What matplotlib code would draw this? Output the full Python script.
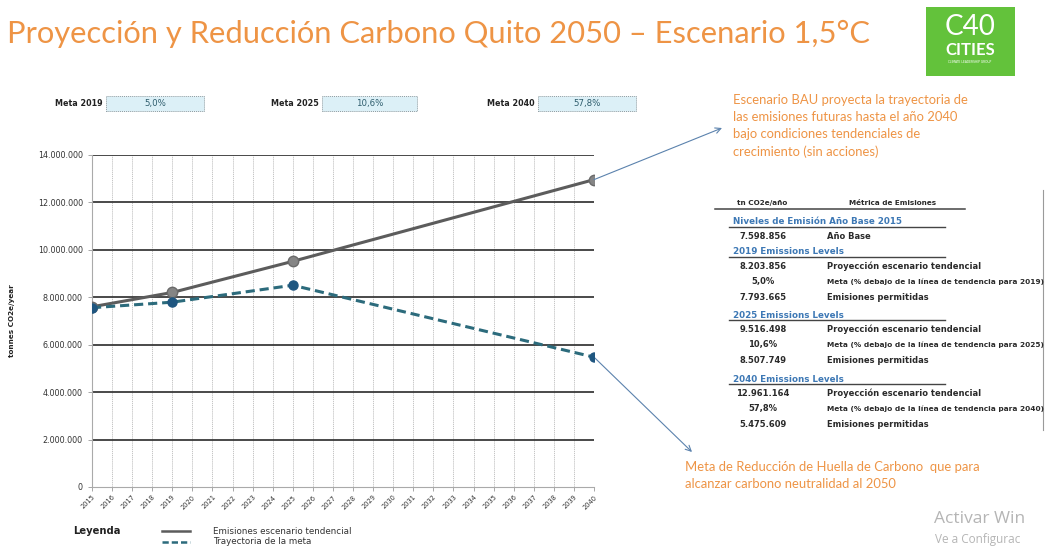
import matplotlib
matplotlib.use("Agg")
import matplotlib.pyplot as plt
from matplotlib.patches import Rectangle
from matplotlib.ticker import FuncFormatter

# ---------------- data ----------------
years = list(range(2015, 2041))
bau_years = [2015, 2019, 2025, 2040]
bau_values = [7598856, 8203856, 9516498, 12961164]
meta_years = [2015, 2019, 2025, 2040]
meta_values = [7560000, 7793665, 8507749, 5475609]
yticks = [0, 2000000, 4000000, 6000000, 8000000, 10000000, 12000000, 14000000]

meta_box_labels = ["Meta 2019", "Meta 2025", "Meta 2040"]
meta_box_values = ["5,0%", "10,6%", "57,8%"]

table_sections = ["Niveles de Emisión Año Base 2015", "2019 Emissions Levels",
                  "2025 Emissions Levels", "2040 Emissions Levels"]
table_rows = [
    [("7.598.856", "Año Base")],
    [("8.203.856", "Proyección escenario tendencial"),
     ("5,0%", "Meta (% debajo de la línea de tendencia para 2019)"),
     ("7.793.665", "Emisiones permitidas")],
    [("9.516.498", "Proyección escenario tendencial"),
     ("10,6%", "Meta (% debajo de la línea de tendencia para 2025)"),
     ("8.507.749", "Emisiones permitidas")],
    [("12.961.164", "Proyección escenario tendencial"),
     ("57,8%", "Meta (% debajo de la línea de tendencia para 2040)"),
     ("5.475.609", "Emisiones permitidas")],
]
legend_labels = ["Emisiones escenario tendencial", "Trayectoria de la meta"]

W, H = 1047, 548
fig = plt.figure(figsize=(W / 100, H / 100), dpi=100)
fig.patch.set_facecolor("white")


def fx(x):
    return x / W


def fy(y):
    return 1 - y / H


ORANGE = "#EE9445"
BAU_C = "#5c5c5c"
META_C = "#2c6b7c"

# ---------------- main chart ----------------
L, R, T, B = 92, 594, 155, 487
ax = fig.add_axes([fx(L), fy(B), (R - L) / W, (B - T) / H])
ax.set_xlim(2015, 2040)
ax.set_ylim(0, 14000000)

ax.plot(bau_years, bau_values, color=BAU_C, lw=2.2, zorder=3,
        marker="o", ms=7.5, mfc="#858585", mec="#6a6a6a", label=legend_labels[0])
ax.plot(meta_years, meta_values, color=META_C, lw=2.2, ls=(0, (3, 1.6)), zorder=4,
        marker="o", ms=6.5, mfc="#1f5680", mec="#1f5680", label=legend_labels[1])

ax.set_xticks(years)
ax.set_xticklabels([str(y) for y in years], rotation=45, ha="right",
                   rotation_mode="anchor", fontsize=4.8, color="#333333")
ax.set_yticks(yticks)
ax.yaxis.set_major_formatter(FuncFormatter(lambda v, p: f"{int(v):,}".replace(",", ".")))
ax.tick_params(axis="y", labelsize=5.8, colors="#333333", length=3, width=0.6, color="#999999")
ax.tick_params(axis="x", length=3, width=0.6, color="#999999", pad=2)

for yv in yticks[1:]:
    ax.axhline(yv, color="#3a3a3a", lw=1.3, zorder=1)
for xv in years[1:]:
    ax.axvline(xv, color="#bcbcbc", lw=0.6, ls=(0, (1.5, 1)), zorder=0)

for s in ["top", "right"]:
    ax.spines[s].set_visible(False)
ax.spines["left"].set_color("#aaaaaa")
ax.spines["left"].set_linewidth(0.8)
ax.spines["bottom"].set_color("#aaaaaa")
ax.spines["bottom"].set_linewidth(0.8)

fig.text(fx(12), fy(321), "tonnes CO2e/year", rotation=90, fontsize=5.2,
         fontweight="bold", color="#222222", ha="center", va="center")

# arrows
ax.annotate("", xy=(fx(722), fy(128)), xycoords="figure fraction",
            xytext=(bau_years[-1], bau_values[-1]), textcoords="data",
            arrowprops=dict(arrowstyle="->", color="#5b82ad", lw=0.8,
                            shrinkA=0, shrinkB=0), annotation_clip=False)
ax.annotate("", xy=(fx(692), fy(452)), xycoords="figure fraction",
            xytext=(meta_years[-1], meta_values[-1]), textcoords="data",
            arrowprops=dict(arrowstyle="->", color="#5b82ad", lw=0.8,
                            shrinkA=0, shrinkB=0), annotation_clip=False)

# ---------------- title & logo ----------------
fig.text(fx(7), fy(34), "Proyección y Reducción Carbono Quito 2050 – Escenario 1,5°C",
         fontsize=22.2, color=ORANGE, family="Lato", ha="left", va="center")

fig.patches.append(Rectangle((fx(926), fy(76)), (1015 - 926) / W, (76 - 7) / H,
                             transform=fig.transFigure, facecolor="#63c23b",
                             edgecolor="none"))
fig.text(fx(970), fy(27), "C40", fontsize=20, color="white", ha="center",
         va="center", family="Lato")
fig.text(fx(970), fy(50), "CITIES", fontsize=12, color="white", ha="center",
         va="center", family="Lato", fontweight="bold")
fig.text(fx(970), fy(62), "CLIMATE LEADERSHIP GROUP", fontsize=2.2, color="white",
         ha="center", va="center")

# ---------------- meta boxes ----------------
box_x = [(106, 204), (322, 417), (538, 636)]
for lab, val, (x0, x1) in zip(meta_box_labels, meta_box_values, box_x):
    fig.text(fx(x0 - 3), fy(103.5), lab, fontsize=5.8, fontweight="bold",
             color="#222222", ha="right", va="center")
    fig.patches.append(Rectangle((fx(x0), fy(111)), (x1 - x0) / W, 15 / H,
                                 transform=fig.transFigure, facecolor="#dcf0f7",
                                 edgecolor="#8c9aa0", lw=0.7, ls=(0, (1, 1))))
    fig.text(fx((x0 + x1) / 2), fy(103.5), val, fontsize=6.2, color="#2d5c6c",
             ha="center", va="center")

# ---------------- annotations ----------------
bau_note = ["Escenario BAU proyecta la trayectoria de",
            "las emisiones futuras hasta el año 2040",
            "bajo condiciones tendenciales de",
            "crecimiento (sin acciones)"]
for i, line in enumerate(bau_note):
    fig.text(fx(733), fy(100 + i * 17.2), line, fontsize=9.4, color=ORANGE,
             family="Lato", ha="left", va="center")
meta_note = ["Meta de Reducción de Huella de Carbono  que para",
             "alcanzar carbono neutralidad al 2050"]
for i, line in enumerate(meta_note):
    fig.text(fx(685), fy(467 + i * 17.5), line, fontsize=9.4, color=ORANGE,
             family="Lato", ha="left", va="center")

# ---------------- table ----------------
TXT = "#2a2a2a"
fig.text(fx(762), fy(203), "tn CO2e/año", fontsize=5.2, fontweight="bold",
         color=TXT, ha="center", va="center")
fig.text(fx(893), fy(203), "Métrica de Emisiones", fontsize=5.2, fontweight="bold",
         color=TXT, ha="center", va="center")
fig.add_artist(plt.Line2D([fx(715), fx(965)], [fy(209), fy(209)], color="#444444", lw=1.1))

sec_y = [222, 252, 315, 379]
row_gap = 15.3
for sy, sec, rows in zip(sec_y, table_sections, table_rows):
    fig.text(fx(733), fy(sy), sec, fontsize=6.3, fontweight="bold",
             color="#3d78b5", ha="left", va="center")
    fig.add_artist(plt.Line2D([fx(729), fx(945)], [fy(sy + 5), fy(sy + 5)],
                              color="#444444", lw=1.0))
    for j, (v, lab) in enumerate(rows):
        ry = sy + 14.5 + j * row_gap
        fig.text(fx(763), fy(ry), v, fontsize=6.0, fontweight="bold",
                 color=TXT, ha="center", va="center")
        small = lab.startswith("Meta")
        fig.text(fx(827), fy(ry), lab, fontsize=5.35 if small else 6.0,
                 fontweight="bold", color=TXT, ha="left", va="center")

fig.add_artist(plt.Line2D([fx(1043), fx(1043)], [fy(190), fy(430)],
                          color="#9a9a9a", lw=0.8))

# ---------------- legend ----------------
fig.text(fx(73), fy(531), "Leyenda", fontsize=7.2, fontweight="bold",
         color="#222222", ha="left", va="center")
fig.add_artist(plt.Line2D([fx(162), fx(190)], [fy(531), fy(531)], color=BAU_C, lw=1.8))
fig.add_artist(plt.Line2D([fx(162), fx(190)], [fy(542), fy(542)], color=META_C, lw=1.8,
                          ls=(0, (2.5, 1.2))))
fig.text(fx(213), fy(531), legend_labels[0], fontsize=6.3, color="#333333",
         ha="left", va="center")
fig.text(fx(213), fy(541.5), legend_labels[1], fontsize=6.3, color="#333333",
         ha="left", va="center")

# ---------------- watermark (as cut in the reference) ----------------
fig.text(fx(934), fy(519), "Activar Win", fontsize=12.5, color="#b5b5b5",
         family="Open Sans", ha="left", va="center")
fig.text(fx(935), fy(540), "Ve a Configurac", fontsize=8.5, color="#b5b5b5",
         family="Open Sans", ha="left", va="center")

fig.savefig("out.png", dpi=100, facecolor="white")
